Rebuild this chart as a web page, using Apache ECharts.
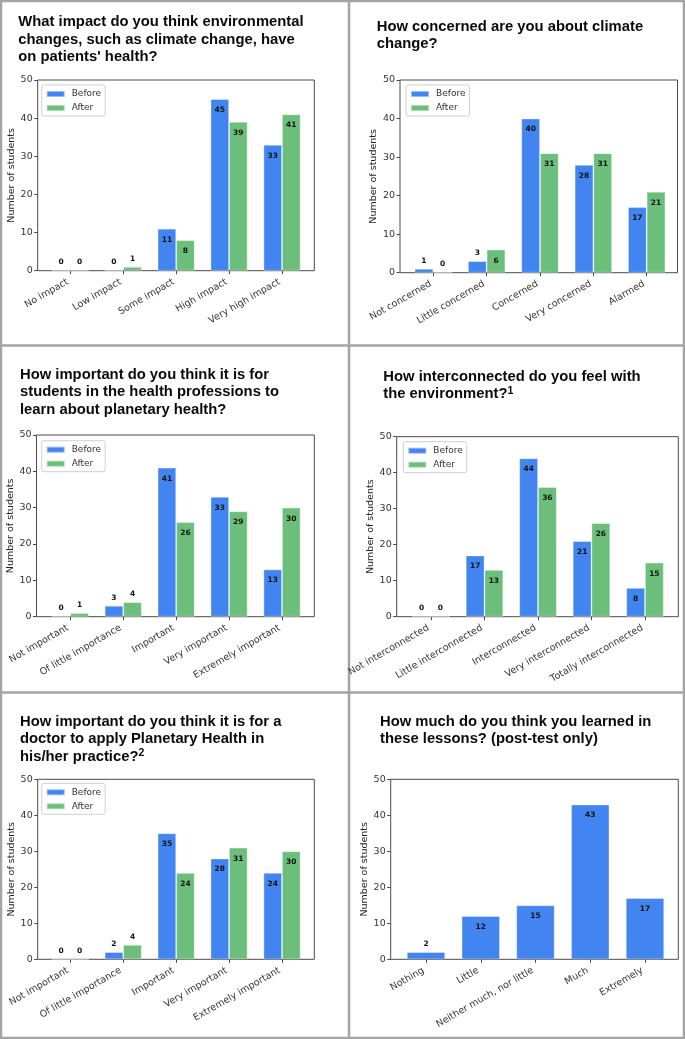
<!DOCTYPE html>
<html>
<head>
<meta charset="utf-8">
<script src="https://cdn.jsdelivr.net/npm/echarts@6/dist/echarts.min.js"></script>
<style>
html,body{margin:0;padding:0;background:#fff;}
#chart{width:685px;height:1039px;}
</style>
</head>
<body>
<div id="chart"></div>
<script>
// ---------- DATA ----------
const yTicksMax = 50;
const yTickStep = 10;
const yAxisTitle = 'Number of students';
const seriesNames = ['Before', 'After'];

const title1 = 'What impact do you think environmental\nchanges, such as climate change, have\non patients\' health?';
const cats1 = ['No impact', 'Low impact', 'Some impact', 'High impact', 'Very high impact'];
const before1 = [0, 0, 11, 45, 33];
const after1 = [0, 1, 8, 39, 41];

const title2 = 'How concerned are you about climate\nchange?';
const cats2 = ['Not concerned', 'Little concerned', 'Concerned', 'Very concerned', 'Alarmed'];
const before2 = [1, 3, 40, 28, 17];
const after2 = [0, 6, 31, 31, 21];

const title3 = 'How important do you think it is for\nstudents in the health professions to\nlearn about planetary health?';
const cats3 = ['Not important', 'Of little importance', 'Important', 'Very important', 'Extremely important'];
const before3 = [0, 3, 41, 33, 13];
const after3 = [1, 4, 26, 29, 30];

const title4 = 'How interconnected do you feel with\nthe environment?{sup|1}';
const cats4 = ['Not interconnected', 'Little interconnected', 'Interconnected', 'Very interconnected', 'Totally interconnected'];
const before4 = [0, 17, 44, 21, 8];
const after4 = [0, 13, 36, 26, 15];

const title5 = 'How important do you think it is for a\ndoctor to apply Planetary Health in\nhis/her practice?{sup|2}';
const cats5 = ['Not important', 'Of little importance', 'Important', 'Very important', 'Extremely important'];
const before5 = [0, 2, 35, 28, 24];
const after5 = [0, 4, 24, 31, 30];

const title6 = 'How much do you think you learned in\nthese lessons? (post-test only)';
const cats6 = ['Nothing', 'Little', 'Neither much, nor little', 'Much', 'Extremely'];
const values6 = [2, 12, 15, 43, 17];

// ---------- LAYOUT / STYLE ----------
const BLUE = '#4285f0';
const GREEN = '#6cbf7b';
const FONT = 'DejaVu Sans';
const TFONT = 'Liberation Sans, Arial, sans-serif';

const panels = [
  {title: title1, cats: cats1, series: [[seriesNames[0], before1, BLUE], [seriesNames[1], after1, GREEN]],
   frame: {l: 37.7, r: 314.3, t: 80, b: 270.7}, tick: [70.3, 282], tpos: [18.3, 13.5], leg: [41.7, 85]},
  {title: title2, cats: cats2, series: [[seriesNames[0], before2, BLUE], [seriesNames[1], after2, GREEN]],
   frame: {l: 400, r: 677.5, t: 80, b: 272.7}, tick: [433.3, 646.7], tpos: [376.7, 17.7], leg: [406, 85]},
  {title: title3, cats: cats3, series: [[seriesNames[0], before3, BLUE], [seriesNames[1], after3, GREEN]],
   frame: {l: 36.5, r: 314.3, t: 435, b: 616.7}, tick: [70.3, 282], tpos: [20, 366], leg: [41.7, 440.7]},
  {title: title4, cats: cats4, series: [[seriesNames[0], before4, BLUE], [seriesNames[1], after4, GREEN]],
   frame: {l: 396.7, r: 678.3, t: 436.7, b: 616.7}, tick: [431, 645], tpos: [383.3, 367.7], leg: [403.3, 441.7]},
  {title: title5, cats: cats5, series: [[seriesNames[0], before5, BLUE], [seriesNames[1], after5, GREEN]],
   frame: {l: 37.7, r: 314.3, t: 779.3, b: 959.3}, tick: [70.3, 282], tpos: [20, 712.7], leg: [41.7, 783.3]},
  {title: title6, cats: cats6, series: [['Count', values6, BLUE]],
   frame: {l: 390.7, r: 678.3, t: 779.3, b: 959.3}, tick: [426, 645], tpos: [380, 712.7], leg: null}
];

const grid = [], xAxis = [], yAxis = [], series = [], title = [], legend = [];

panels.forEach((p, i) => {
  const f = p.frame;
  const n = p.cats.length;
  const s = (p.tick[1] - p.tick[0]) / (n - 1);
  const gFrame = grid.length;
  grid.push({left: f.l, top: f.t, width: f.r - f.l, height: f.b - f.t, show: true,
             borderColor: '#4a4a4a', borderWidth: 1, backgroundColor: 'transparent', containLabel: false});
  const gBars = grid.length;
  grid.push({left: p.tick[0] - s / 2, top: f.t, width: s * n, height: f.b - f.t, containLabel: false});

  xAxis.push({type: 'value', gridIndex: gFrame, min: 0, max: 1, show: false});
  yAxis.push({type: 'value', gridIndex: gFrame, min: 0, max: yTicksMax, interval: yTickStep,
    axisLine: {show: false},
    axisTick: {show: true, inside: false, length: 3.5, lineStyle: {color: '#4a4a4a', width: 1}},
    axisLabel: {fontSize: 9.5, color: '#333', fontFamily: FONT, margin: 5},
    splitLine: {show: false},
    name: yAxisTitle, nameLocation: 'middle', nameGap: 20,
    nameTextStyle: {fontSize: 9.5, color: '#222', fontFamily: FONT}
  });
  xAxis.push({type: 'category', gridIndex: gBars, data: p.cats,
    axisLine: {show: false},
    axisTick: {show: true, alignWithLabel: true, length: 3.5, lineStyle: {color: '#4a4a4a', width: 1}},
    axisLabel: {rotate: 30, interval: 0, fontSize: 9.5, color: '#333', fontFamily: FONT, margin: 9, padding: [0, 3, 0, 0]}
  });
  yAxis.push({type: 'value', gridIndex: gBars, min: 0, max: yTicksMax, show: false});

  const single = p.series.length === 1;
  p.series.forEach(([name, vals, color]) => {
    series.push({
      type: 'bar', name: name, xAxisIndex: gBars, yAxisIndex: gBars,
      barWidth: single ? '70%' : '35%', barGap: '0%',
      itemStyle: {color: color, borderColor: 'rgba(255,255,255,0.45)', borderWidth: 0.8},
      label: {show: true, fontSize: 7.5, fontWeight: 'bold', color: '#111', fontFamily: FONT},
      data: vals.map(v => ({value: v, label: v < 5 ? {position: 'top', distance: 4} : {position: 'insideTop', distance: 7}})),
      animation: false
    });
  });

  title.push({text: p.title, left: p.tpos[0], top: p.tpos[1], padding: 0,
    textStyle: {fontFamily: TFONT, fontWeight: 'bold', fontSize: 14.8, lineHeight: 17.5, color: '#0a0a0a',
      rich: {sup: {fontFamily: TFONT, fontWeight: 'bold', fontSize: 10.5, lineHeight: 17.5, verticalAlign: 'top', color: '#0a0a0a', padding: [0, 0, 5, 0]}}}
  });

  if (p.leg) {
    legend.push({data: seriesNames, orient: 'vertical', left: p.leg[0], top: p.leg[1],
      icon: 'rect', itemWidth: 18, itemHeight: 6, itemGap: 4, padding: [4, 4, 3, 4],
      borderColor: '#cfcfcf', borderWidth: 1, borderRadius: 2, backgroundColor: 'rgba(255,255,255,0.8)',
      selectedMode: false,
      textStyle: {fontSize: 9, color: '#333', fontFamily: FONT, lineHeight: 10, padding: [0, 0, 0, 2]}
    });
  }
});

const LINE = '#a4a4a4';
const graphic = [
  {type: 'rect', shape: {x: 1, y: 1, width: 683, height: 1037}, style: {fill: 'none', stroke: LINE, lineWidth: 2.5}, silent: true},
  {type: 'line', shape: {x1: 349, y1: 0, x2: 349, y2: 1039}, style: {stroke: LINE, lineWidth: 2.5}, silent: true},
  {type: 'line', shape: {x1: 0, y1: 345.5, x2: 685, y2: 345.5}, style: {stroke: LINE, lineWidth: 2.5}, silent: true},
  {type: 'line', shape: {x1: 0, y1: 692.5, x2: 685, y2: 692.5}, style: {stroke: LINE, lineWidth: 2.5}, silent: true}
];

const chart = echarts.init(document.getElementById('chart'), null, {renderer: 'canvas'});
chart.setOption({
  animation: false,
  backgroundColor: '#fff',
  title, legend, grid, xAxis, yAxis, series, graphic
});
</script>
</body>
</html>
